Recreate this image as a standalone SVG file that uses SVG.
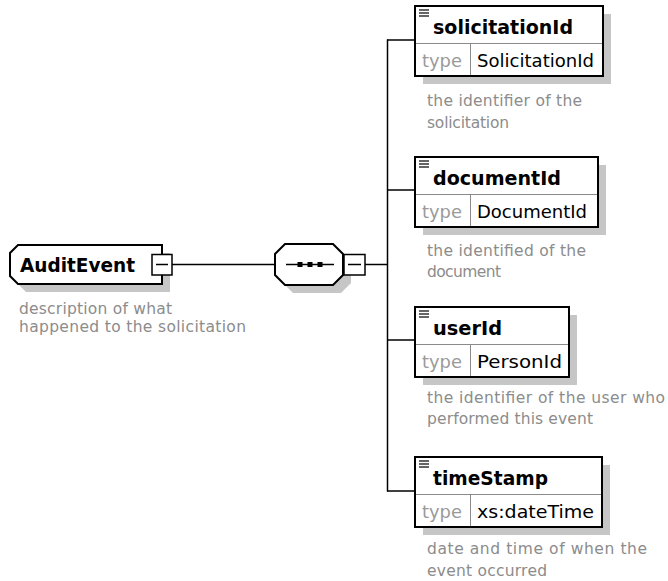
<svg xmlns="http://www.w3.org/2000/svg" width="668" height="581" viewBox="0 0 668 581">
<style>
.shadow{fill:#c6c6c6}
.box{fill:#fff;stroke:#000;stroke-width:2}
.div{stroke:#8a8a8a;stroke-width:1;fill:none}
.icon{stroke:#333;stroke-width:1.6;fill:none}
.name{font-family:"DejaVu Sans",Verdana,sans-serif;font-weight:bold;font-size:19.5px;fill:#000}
.lbl{font-family:"DejaVu Sans",Verdana,sans-serif;font-size:18px;fill:#9a9a9a}
.val{font-family:"DejaVu Sans",Verdana,sans-serif;font-size:18px;fill:#000}
.desc{font-family:"DejaVu Sans",Verdana,sans-serif;font-size:15.5px;fill:#8c8c8c}
.conn{stroke:#000;stroke-width:1.5;fill:none}
.minus{fill:#fff;stroke:#000;stroke-width:1.5}
</style>
<rect width="668" height="581" fill="#fff"/>

<g id="connectors">
<line class="conn" x1="172" y1="264.5" x2="275" y2="264.5"/>
<line class="conn" x1="365" y1="264.5" x2="387.5" y2="264.5"/>
<line class="conn" x1="387.5" y1="39.5" x2="387.5" y2="491.5"/>
<line class="conn" x1="387" y1="40" x2="415" y2="40"/>
<line class="conn" x1="387" y1="190" x2="415" y2="190"/>
<line class="conn" x1="387" y1="340" x2="415" y2="340"/>
<line class="conn" x1="387" y1="491" x2="415" y2="491"/>
</g>

<g id="AuditEvent">
<polygon class="shadow" points="26,253 170,253 170,292 26,292 18,284 18,261"/>
<polygon class="box" points="18,245 162,245 162,284 18,284 10,276 10,253"/>
<text class="name" x="20" y="272" font-size="18.5" textLength="115" lengthAdjust="spacingAndGlyphs">AuditEvent</text>
<rect class="minus" x="152" y="254.5" width="20" height="20.5"/>
<line class="conn" x1="156" y1="264.5" x2="168" y2="264.5"/>
<text class="desc" x="19" y="314" textLength="153">description of what</text>
<text class="desc" x="19" y="332" textLength="227">happened to the solicitation</text>
</g>

<g id="sequence">
<polygon class="shadow" points="293,252 341,252 351,262 351,283 341,293 293,293 283,283 283,262"/>
<polygon class="box" points="285,244 333,244 343,254 343,275 333,285 285,285 275,275 275,254"/>
<line class="conn" x1="286" y1="264.5" x2="334" y2="264.5"/>
<rect x="297.5" y="262" width="5" height="5" fill="#000"/>
<rect x="307.5" y="262" width="5" height="5" fill="#000"/>
<rect x="317.5" y="262" width="5" height="5" fill="#000"/>
<rect class="minus" x="344" y="254.5" width="21" height="20.5"/>
<line class="conn" x1="348" y1="264.5" x2="361" y2="264.5"/>
</g>

<g id="solicitationId" transform="translate(415,6)">
<rect class="shadow" x="8" y="8" width="188" height="70"/>
<rect class="box" x="0" y="0" width="188" height="70"/>
<line class="div" x1="1" y1="37.5" x2="187" y2="37.5"/>
<line class="div" x1="55.5" y1="38" x2="55.5" y2="69"/>
<path class="icon" d="M4 4h10M4 7h10M4 10h10"/>
<text class="name" x="18" y="27.5" textLength="140" lengthAdjust="spacingAndGlyphs">solicitationId</text>
<text class="lbl" x="7" y="61" textLength="40" lengthAdjust="spacingAndGlyphs">type</text>
<text class="val" x="62" y="61" textLength="117" lengthAdjust="spacingAndGlyphs">SolicitationId</text>
<text class="desc" x="12" y="100" textLength="155">the identifier of the</text>
<text class="desc" x="12" y="122" textLength="82">solicitation</text>
</g>

<g id="documentId" transform="translate(415,157)">
<rect class="shadow" x="8" y="8" width="183" height="70"/>
<rect class="box" x="0" y="0" width="183" height="70"/>
<line class="div" x1="1" y1="37.5" x2="182" y2="37.5"/>
<line class="div" x1="55.5" y1="38" x2="55.5" y2="69"/>
<path class="icon" d="M4 4h10M4 7h10M4 10h10"/>
<text class="name" x="18" y="27.5" textLength="128" lengthAdjust="spacingAndGlyphs">documentId</text>
<text class="lbl" x="7" y="61" textLength="40" lengthAdjust="spacingAndGlyphs">type</text>
<text class="val" x="62" y="61" textLength="110" lengthAdjust="spacingAndGlyphs">DocumentId</text>
<text class="desc" x="12" y="99" textLength="159">the identified of the</text>
<text class="desc" x="12" y="120" textLength="74">document</text>
</g>

<g id="userId" transform="translate(415,307)">
<rect class="shadow" x="8" y="8" width="154" height="70"/>
<rect class="box" x="0" y="0" width="154" height="70"/>
<line class="div" x1="1" y1="37.5" x2="153" y2="37.5"/>
<line class="div" x1="55.5" y1="38" x2="55.5" y2="69"/>
<path class="icon" d="M4 4h10M4 7h10M4 10h10"/>
<text class="name" x="18" y="27.5" textLength="69" lengthAdjust="spacingAndGlyphs">userId</text>
<text class="lbl" x="7" y="61" textLength="40" lengthAdjust="spacingAndGlyphs">type</text>
<text class="val" x="62" y="61" textLength="85" lengthAdjust="spacingAndGlyphs">PersonId</text>
<text class="desc" x="12" y="96" textLength="238">the identifier of the user who</text>
<text class="desc" x="12" y="117" textLength="166">performed this event</text>
</g>

<g id="timeStamp" transform="translate(415,457)">
<rect class="shadow" x="8" y="8" width="187" height="70"/>
<rect class="box" x="0" y="0" width="187" height="70"/>
<line class="div" x1="1" y1="37.5" x2="186" y2="37.5"/>
<line class="div" x1="55.5" y1="38" x2="55.5" y2="69"/>
<path class="icon" d="M4 4h10M4 7h10M4 10h10"/>
<text class="name" x="18" y="27.5" textLength="115" lengthAdjust="spacingAndGlyphs">timeStamp</text>
<text class="lbl" x="7" y="61" textLength="40" lengthAdjust="spacingAndGlyphs">type</text>
<text class="val" x="62" y="61" textLength="117" lengthAdjust="spacingAndGlyphs">xs:dateTime</text>
<text class="desc" x="12" y="97" textLength="220">date and time of when the</text>
<text class="desc" x="12" y="119" textLength="120">event occurred</text>
</g>
</svg>
